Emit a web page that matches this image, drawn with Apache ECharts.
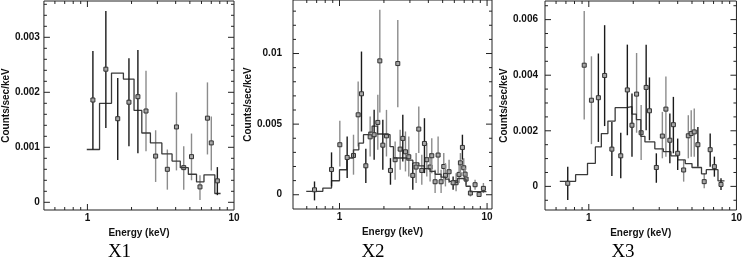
<!DOCTYPE html>
<html><head><meta charset="utf-8">
<script src="https://cdn.jsdelivr.net/npm/echarts@6/dist/echarts.min.js"></script>
<style>html,body{margin:0;padding:0;background:#fff}#c{width:745px;height:258px}</style>
</head><body><div id="c"></div>
<script>
// ---------- Tick values ----------
const xMajorTicks = [1, 10];
const xMinorTicks = [0.6, 0.7, 0.8, 0.9, 2, 3, 4, 5, 6, 7, 8, 9];
const y1Major = [0, 0.001, 0.002, 0.003];
const y1Minor = [0.0002,0.0004,0.0006,0.0008,0.0012,0.0014,0.0016,0.0018,0.0022,0.0024,0.0026,0.0028,0.0032,0.0034,0.0036];
const y2Major = [0, 0.005, 0.01];
const y2Minor = [0.001,0.002,0.003,0.004,0.006,0.007,0.008,0.009,0.011,0.012,0.013];
const y3Major = [0, 0.002, 0.004, 0.006];
const y3Minor = [-0.0005,0.0005,0.001,0.0015,0.0025,0.003,0.0035,0.0045,0.005,0.0055,0.0065];
const panelTitles = ['X1', 'X2', 'X3'];

// ---------- X1 ----------
const x1Energy = [1.09, 1.336, 1.61, 1.92, 2.21, 2.51, 2.92, 3.51, 4.05, 4.54, 5.13, 5.86, 6.59, 7.0, 7.7];
const x1Rate   = [0.00186,0.00242,0.00152,0.00182,0.00192,0.00166,0.00084,0.00060,0.00137,0.00063,0.00083,0.00028,0.00153,0.00108,0.00039];
const x1Upper  = [0.00275,0.00348,0.00226,0.00262,0.00277,0.00239,0.00131,0.00096,0.00200,0.00102,0.00125,0.00049,0.00218,0.00156,0.00064];
const x1Lower  = [0.00096,0.00135,0.00077,0.00102,0.00089,0.00093,0.00037,0.00023,0.00058,0.00023,0.00040,0.00004,0.00087,0.00058,0.00013];
const x1Detector = [0,0,0,0,0,1,1,1,1,1,1,1,1,1,0];
const x1ModelEdges = [0.99,1.21,1.46,1.76,2.08,2.35,2.69,3.22,3.78,4.3,4.88,5.55,6.24,7.4,8.1];
const x1ModelRate  = [0.00096,0.00180,0.00235,0.00224,0.00167,0.00126,0.00108,0.00088,0.00075,0.00063,0.00051,0.00037,0.00050,0.00016];

// ---------- X2 ----------
const x2Energy = [0.677,0.883,1.005,1.127,1.244,1.338,1.409,1.508,1.613,1.717,1.818,1.876,1.966,2.081,2.215,2.382,2.483,2.576,2.685,2.799,2.948,3.138,3.305,3.445,3.611,3.764,3.904,4.111,4.220,4.445,4.658,4.881,5.088,5.222,5.528,5.887,6.166,6.462,6.597,6.807,6.950,7.096,7.208,7.712,8.292,8.829,9.445];
const x2Rate   = [0.00035,0.00179,0.00354,0.00264,0.00278,0.00566,0.00715,0.00205,0.00410,0.00425,0.00512,0.00948,0.00351,0.00417,0.00172,0.00248,0.00929,0.00323,0.00399,0.00304,0.00269,0.00137,0.00196,0.00465,0.00172,0.00363,0.00248,0.00196,0.00276,0.00092,0.00281,0.00092,0.00200,0.00137,0.00163,0.00085,0.00085,0.00144,0.00226,0.00335,0.00191,0.00146,0.00111,0.00012,0.00071,0.00002,0.00045];
const x2Upper  = [0.00094,0.00300,0.00524,0.00413,0.00425,0.00802,0.01014,0.00325,0.00554,0.00601,0.00708,0.01310,0.00531,0.00601,0.00259,0.00377,0.01238,0.00460,0.00566,0.00448,0.00413,0.00224,0.00295,0.00625,0.00283,0.00542,0.00366,0.00295,0.00400,0.00177,0.00413,0.00177,0.00295,0.00224,0.00248,0.00130,0.00153,0.00212,0.00295,0.00425,0.00259,0.00189,0.00153,0.00047,0.00106,0.00024,0.00083];
const x2Lower  = [-0.00040,0.00059,0.00200,0.00118,0.00142,0.00342,0.00448,0.00083,0.00271,0.00248,0.00318,0.00583,0.00177,0.00271,0.00071,0.00106,0.00620,0.00177,0.00236,0.00165,0.00130,0.00035,0.00083,0.00295,0.00071,0.00153,0.00130,0.00094,0.00153,0.00012,0.00153,0.00012,0.00094,0.00059,0.00083,0.00035,0.00024,0.00083,0.00153,0.00248,0.00130,0.00094,0.00071,-0.00012,0.00035,-0.00012,0.00012];
const x2Detector = [0,0,1,0,1,1,0,0,1,0,1,1,0,1,0,1,1,1,0,1,1,0,1,1,1,0,1,1,1,1,1,1,1,1,1,0,1,1,1,0,1,1,1,1,1,1,1];
const x2ModelEdges = [0.595,0.771,0.883,1.0,1.121,1.244,1.352,1.454,1.58,1.664,1.808,1.945,2.2,2.32,2.86,3.14,3.45,3.76,4.11,4.45,4.88,5.22,5.53,5.89,6.3,6.8,7.2,7.7,9.9];
const x2ModelRate  = [0.00024,0.00047,0.00099,0.00177,0.00260,0.00318,0.00366,0.00425,0.00443,0.00486,0.00430,0.00425,0.00340,0.00260,0.00245,0.00225,0.00205,0.00185,0.00165,0.00145,0.00125,0.00110,0.00095,0.00085,0.00115,0.00110,0.00060,0.00022];

// ---------- X3 ----------
const x3Energy = [0.72,0.931,1.042,1.161,1.28,1.433,1.646,1.824,1.961,2.107,2.262,2.446,2.575,2.867,3.149,3.328,3.54,3.74,4.0,4.39,4.72,4.94,5.18,5.48,6.05,6.64,7.09,7.86];
const x3Rate   = [0.00011,0.00436,0.00310,0.00319,0.00399,0.00134,0.00110,0.00347,0.00220,0.00332,0.00193,0.00356,0.00272,0.00068,0.00181,0.00278,0.00166,0.00222,0.00119,0.00059,0.00182,0.00190,0.00196,0.00150,0.00017,0.00132,0.00071,0.00007];
const x3Upper  = [0.00071,0.00631,0.00468,0.00478,0.00580,0.00232,0.00193,0.00510,0.00334,0.00480,0.00293,0.00510,0.00392,0.00119,0.00268,0.00395,0.00262,0.00322,0.00172,0.00095,0.00256,0.00274,0.00280,0.00214,0.00047,0.00190,0.00107,0.00029];
const x3Lower  = [-0.00049,0.00241,0.00152,0.00160,0.00217,0.00037,0.00029,0.00184,0.00107,0.00193,0.00095,0.00202,0.00166,0.00013,0.00101,0.00107,0.00083,0.00119,0.00059,0.00017,0.00101,0.00107,0.00107,0.00071,-0.00007,0.00071,0.00035,-0.00013];
const x3Detector = [0,1,1,0,0,0,0,0,0,1,1,0,0,0,1,1,0,0,0,1,1,1,1,0,1,0,0,0];
const x3ModelEdges = [0.636,0.814,0.98,1.108,1.216,1.347,1.508,1.80,1.96,2.10,2.25,2.40,2.80,3.20,3.60,4.0,4.5,5.0,5.8,6.25,7.5,8.3];
const x3ModelRate  = [0.00018,0.00042,0.00083,0.00142,0.00190,0.00235,0.00283,0.00287,0.00260,0.00240,0.00180,0.00160,0.00135,0.00125,0.00110,0.00095,0.00082,0.00068,0.00045,0.00060,0.00020];

// ---------- Build ----------
const panels = [
  {E:x1Energy, V:x1Rate, U:x1Upper, L:x1Lower, D:x1Detector, ME:x1ModelEdges, MV:x1ModelRate, yMajor:y1Major, yMinor:y1Minor,
   left:39, top:1, width:195, height:209, xMin:0.505, xMax:10, yMin:-0.00014, yMax:0.00366, labelMargin:4, nameGap:29, titleX:119.5},
  {E:x2Energy, V:x2Rate, U:x2Upper, L:x2Lower, D:x2Detector, ME:x2ModelEdges, MV:x2ModelRate, yMajor:y2Major, yMinor:y2Minor,
   left:293, top:0, width:199, height:209, xMin:0.484, xMax:10.8, yMin:-0.00101, yMax:0.01379, labelMargin:11, nameGap:28, titleX:373},
  {E:x3Energy, V:x3Rate, U:x3Upper, L:x3Lower, D:x3Detector, ME:x3ModelEdges, MV:x3ModelRate, yMajor:y3Major, yMinor:y3Minor,
   left:545, top:1, width:194, height:209, xMin:0.505, xMax:10, yMin:-0.00085, yMax:0.00667, labelMargin:7, nameGap:30, titleX:623}
];

const FONT = 'Liberation Sans';
const txt = {fontFamily: FONT, fontSize: 10, fontWeight: 'bold', color: '#111'};
const detColor = ['#1a1a1a', '#8c8c8c'];

function fmtY(v){ if (Math.abs(v) < 1e-12) return '0'; return String(+v.toPrecision(3)); }

const grid = [], xAxis = [], yAxis = [], series = [], graphic = [];

panels.forEach((P, i) => {
  grid.push({left:P.left, top:P.top, width:P.width, height:P.height, show:true, borderColor:'#222', borderWidth:1, containLabel:false});
  xAxis.push({type:'log', logBase:10, gridIndex:i, min:P.xMin, max:P.xMax,
    name:'Energy (keV)', nameLocation:'middle', nameGap:15, nameTextStyle:txt,
    axisLine:{show:false}, axisTick:{show:false}, splitLine:{show:false}, minorTick:{show:false},
    axisLabel:Object.assign({margin:3, customValues:xMajorTicks,
      formatter:(v)=>{ const l=Math.log10(v); return Math.abs(l-Math.round(l))<1e-6 ? String(Math.round(v)) : ''; }}, txt)});
  const majors = P.yMajor;
  yAxis.push({type:'value', gridIndex:i, min:P.yMin, max:P.yMax,
    name:'Counts/sec/keV', nameLocation:'middle', nameGap:P.nameGap, nameTextStyle:txt,
    axisLine:{show:false}, axisTick:{show:false}, splitLine:{show:false},
    axisLabel:Object.assign({margin:P.labelMargin, customValues:majors,
      formatter:(v)=> majors.some(m=>Math.abs(m-v)<1e-9) ? fmtY(v) : ''}, txt)});

  // ticks
  const tickData = [];
  xMajorTicks.forEach(v => { if (v > P.xMin && v < P.xMax) tickData.push([v, P.yMin, 0]); });
  xMinorTicks.forEach(v => { if (v > P.xMin && v < P.xMax) tickData.push([v, P.yMin, 1]); });
  P.yMajor.forEach(v => { if (v > P.yMin && v < P.yMax) tickData.push([P.xMin, v, 2]); });
  P.yMinor.forEach(v => { if (v > P.yMin && v < P.yMax) tickData.push([P.xMin, v, 3]); });
  series.push({type:'custom', xAxisIndex:i, yAxisIndex:i, z:5, silent:true, clip:false, data:tickData,
    renderItem:(params, api)=>{
      const kind = api.value(2), len = (kind===0||kind===2)?6:3;
      const st = {stroke:'#222', lineWidth:1};
      if (kind < 2) {
        const x = api.value(0), b = api.coord([x, P.yMin]), t = api.coord([x, P.yMax]);
        return {type:'group', children:[
          {type:'line', shape:{x1:b[0], y1:b[1], x2:b[0], y2:b[1]-len}, style:st},
          {type:'line', shape:{x1:t[0], y1:t[1], x2:t[0], y2:t[1]+len}, style:st}]};
      } else {
        const y = api.value(1), l = api.coord([P.xMin, y]), r = api.coord([P.xMax, y]);
        return {type:'group', children:[
          {type:'line', shape:{x1:l[0], y1:l[1], x2:l[0]+len, y2:l[1]}, style:st},
          {type:'line', shape:{x1:r[0], y1:r[1], x2:r[0]-len, y2:r[1]}, style:st}]};
      }
    }});

  // model step line
  const model = P.MV.map((v, k) => [P.ME[k], v]);
  model.push([P.ME[P.ME.length-1], P.MV[P.MV.length-1]]);
  series.push({type:'line', xAxisIndex:i, yAxisIndex:i, step:'end', data:model, symbol:'none', z:3,
    lineStyle:{color:'#3a3a3a', width:1.3}, silent:true});

  // data with error bars, grey detector first then black
  [1, 0].forEach(det => {
    const pts = [];
    P.E.forEach((e, k) => { if (P.D[k] === det) pts.push([e, P.V[k], P.L[k], P.U[k]]); });
    series.push({type:'custom', xAxisIndex:i, yAxisIndex:i, z: det===0 ? 4 : 2, silent:true, data:pts,
      renderItem:(params, api)=>{
        const e = api.value(0);
        const c = api.coord([e, api.value(1)]), lo = api.coord([e, api.value(2)]), hi = api.coord([e, api.value(3)]);
        return {type:'group', children:[
          {type:'line', shape:{x1:c[0], y1:hi[1], x2:c[0], y2:lo[1]}, style:{stroke:detColor[det], lineWidth:1.4}},
          {type:'rect', shape:{x:c[0]-2, y:c[1]-2, width:4, height:4}, style:{fill:'#a6a6a6', stroke:'#333', lineWidth:1}}
        ]};
      }});
  });

  graphic.push({type:'text', left:P.titleX, top:244, style:{text:panelTitles[i], x:0, y:0, font:'19px "Liberation Serif"', fill:'#000', textAlign:'center'}});
});

// position titles by explicit x/y
graphic.forEach((g, i) => { delete g.left; delete g.top; g.x = panels[i].titleX; g.y = 252; g.style.textVerticalAlign = 'middle'; });

const chart = echarts.init(document.getElementById('c'), null, {renderer:'canvas'});
chart.setOption({animation:false, backgroundColor:'#fff', grid, xAxis, yAxis, series, graphic});
</script>
</body></html>
